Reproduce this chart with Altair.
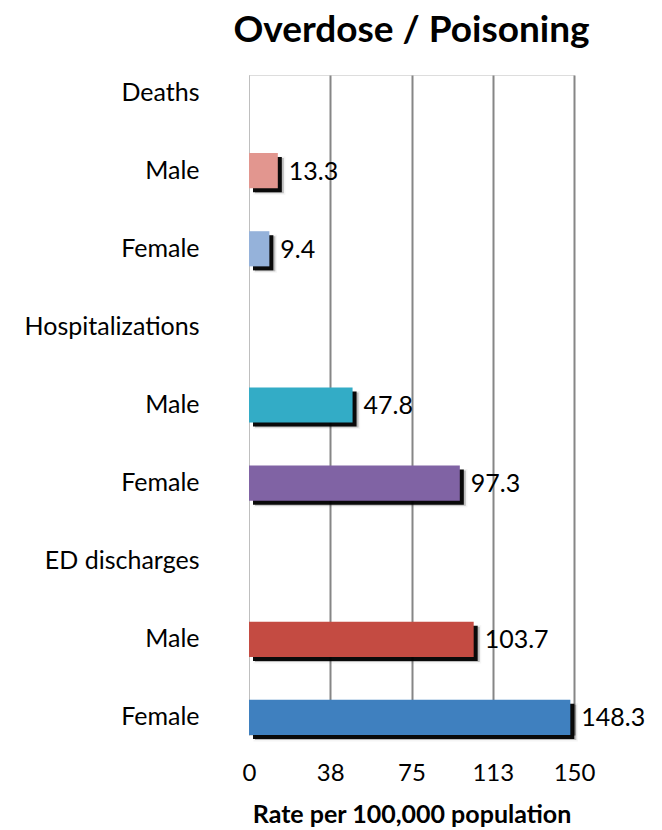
import altair as alt
import pandas as pd

rows = ["Deaths", "Male", "Female", "Hospitalizations", "Male", "Female", "ED discharges", "Male", "Female"]
keys = ["r0", "r1", "r2", "r3", "r4", "r5", "r6", "r7", "r8"]
values = [None, 13.3, 9.4, None, 47.8, 97.3, None, 103.7, 148.3]
colors = [None, "#E2968F", "#95B2DA", None, "#33ACC6", "#8063A4", None, "#C44B42", "#3F80BF"]
tick_values = [0, 37.5, 75, 112.5, 150]
tick_labels = ["0", "38", "75", "113", "150"]

FONT = "Lato"

df = pd.DataFrame({"key": keys, "row": rows, "value": values, "color": colors})
bars_df = df.dropna(subset=["value"])

label_map = "{" + ",".join(f"'{k}':'{r}'" for k, r in zip(keys, rows)) + "}"
tick_map = "{" + ",".join(f"'{v}':'{l}'" for v, l in zip(tick_values, tick_labels)) + "}"

y_enc = alt.Y(
    "key:N",
    scale=alt.Scale(domain=keys, paddingInner=0.55, paddingOuter=0),
    axis=alt.Axis(
        title=None,
        labelExpr=f"{label_map}[datum.value]",
        labelFont=FONT,
        labelFontSize=25,
        labelColor="#000000",
        labelPadding=50,
        ticks=False,
        domainColor="#BFBFBF",
        domainWidth=1,
        grid=False,
    ),
)

x_enc = alt.X(
    "value:Q",
    scale=alt.Scale(domain=[0, 150], nice=False),
    axis=alt.Axis(
        title="Rate per 100,000 population",
        titleFont=FONT,
        titleFontSize=25,
        titleFontWeight="bold",
        titleColor="#000000",
        titlePadding=17,
        values=tick_values,
        labelExpr=f"{tick_map}[datum.value + '']",
        labelFont=FONT,
        labelFontSize=24,
        labelColor="#000000",
        labelPadding=26,
        labelFlush=False,
        labelOverlap=False,
        ticks=False,
        domain=False,
        gridColor={"condition": {"test": "datum.value === 0", "value": "#BFBFBF"}, "value": "#868686"},
        gridWidth={"condition": {"test": "datum.value === 0", "value": 1}, "value": 2},
    ),
)

base = alt.Chart(bars_df)

shadow_blur = base.mark_bar(color="#000000", opacity=0.25, xOffset=6, yOffset=5, x2Offset=8, stroke="#000000", strokeWidth=3, strokeOpacity=0.15).encode(
    x=x_enc, y=y_enc
)
shadow = base.mark_bar(color="#000000", opacity=0.95, xOffset=4, yOffset=4).encode(x=x_enc, y=y_enc)
bars = base.mark_bar().encode(
    x=x_enc, y=y_enc, color=alt.Color("color:N", scale=None)
)
labels = base.mark_text(align="left", baseline="middle", dx=11, dy=1, font=FONT, fontSize=25, color="#000000").encode(
    x="value:Q", y="key:N", text=alt.Text("value:Q", format=".1f")
)

chart = alt.layer(shadow_blur, shadow, bars, labels).properties(
    width=325,
    height=660,
    title=alt.TitleParams(
        "Overdose / Poisoning",
        font=FONT,
        fontSize=37,
        fontWeight="bold",
        color="#000000",
        anchor="middle",
        offset=25,
    ),
    autosize=alt.AutoSizeParams(type="none"),
    padding={"left": 241, "top": 67, "right": 80, "bottom": 95},
).configure_view(stroke=None).configure(background="#FFFFFF")

chart.save("out.html", embed_options={"renderer": "svg", "actions": False})
